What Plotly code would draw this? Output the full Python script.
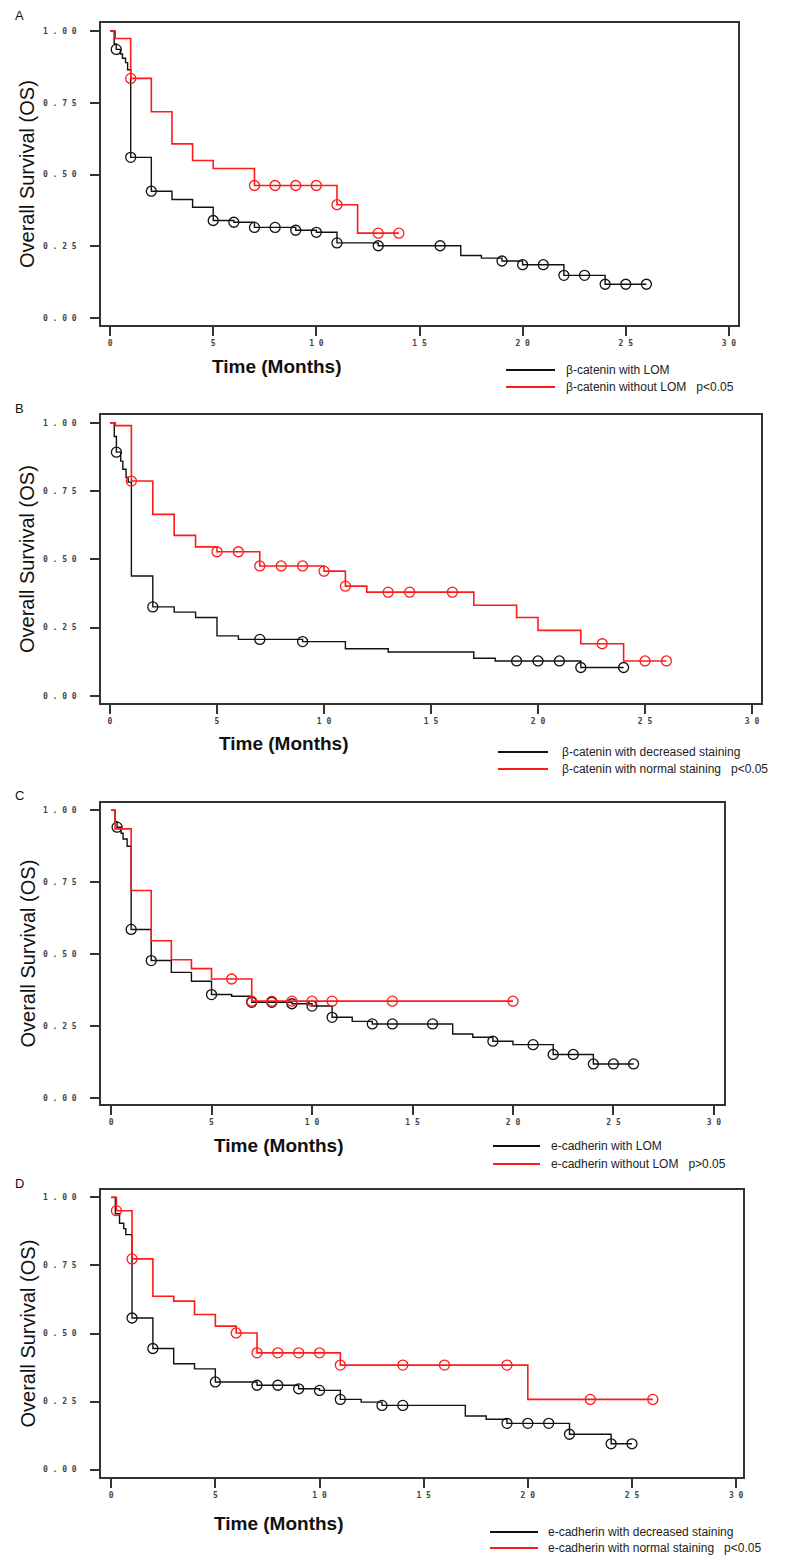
import plotly.graph_objects as go

W, H = 800, 1558

# ---- panel A: beta-catenin with / without LOM ----
a_blk_t = [0.2, 0.3, 0.5, 0.6, 0.75, 0.85, 1, 2, 3, 4, 5, 6, 7, 9, 10, 11, 13, 17, 18, 19, 20, 22, 24]
a_blk_s = [0.955, 0.936, 0.92, 0.905, 0.89, 0.865, 0.56, 0.442, 0.413, 0.386, 0.340, 0.334, 0.316,
           0.306, 0.299, 0.262, 0.252, 0.218, 0.209, 0.199, 0.186, 0.149, 0.118]
a_blk_end = 26
a_blk_cens = [0.3, 1, 2, 5, 6, 7, 8, 9, 10, 11, 13, 16, 19, 20, 21, 22, 23, 24, 25, 26]
a_red_t = [0.25, 1, 2, 3, 4, 5, 7, 11, 12]
a_red_s = [0.974, 0.835, 0.719, 0.607, 0.549, 0.521, 0.462, 0.395, 0.296]
a_red_end = 14
a_red_cens = [1, 7, 8, 9, 10, 11, 13, 14]

# ---- panel B: beta-catenin decreased / normal staining ----
b_blk_t = [0.2, 0.3, 0.5, 0.6, 0.75, 0.85, 1, 2, 3, 4, 5, 6, 9, 11, 13, 17, 18, 22]
b_blk_s = [0.95, 0.893, 0.86, 0.83, 0.80, 0.783, 0.439, 0.326, 0.307, 0.287, 0.220, 0.207, 0.199,
           0.173, 0.161, 0.138, 0.128, 0.104]
b_blk_end = 24
b_blk_cens = [0.3, 2, 7, 9, 19, 20, 21, 22, 24]
b_red_t = [0.25, 1, 2, 3, 4, 5, 7, 10, 11, 12, 17, 19, 20, 22, 24]
b_red_s = [0.99, 0.787, 0.665, 0.588, 0.546, 0.528, 0.476, 0.457, 0.402, 0.380, 0.332, 0.287,
           0.240, 0.191, 0.128]
b_red_end = 26
b_red_cens = [1, 5, 6, 7, 8, 9, 10, 11, 13, 14, 16, 23, 25, 26]

# ---- panel C: e-cadherin with / without LOM ----
c_blk_t = [0.2, 0.3, 0.5, 0.6, 0.8, 1, 2, 3, 4, 5, 6, 7, 9, 10, 11, 12, 13, 17, 18, 19, 20, 22, 24]
c_blk_s = [0.96, 0.941, 0.92, 0.90, 0.875, 0.586, 0.478, 0.437, 0.406, 0.360, 0.354, 0.333, 0.328,
           0.320, 0.281, 0.267, 0.258, 0.223, 0.212, 0.198, 0.186, 0.152, 0.119]
c_blk_end = 26
c_blk_cens = [0.3, 1, 2, 5, 7, 8, 9, 10, 11, 13, 14, 16, 19, 21, 22, 23, 24, 25, 26]
c_red_t = [0.2, 1, 2, 3, 4, 5, 7]
c_red_s = [0.935, 0.721, 0.547, 0.481, 0.450, 0.414, 0.337]
c_red_end = 20
c_red_cens = [6, 7, 8, 9, 10, 11, 14, 20]

# ---- panel D: e-cadherin decreased / normal staining ----
d_blk_t = [0.2, 0.4, 0.6, 0.7, 1, 2, 3, 4, 5, 7, 9, 10, 11, 12, 13, 17, 18, 19, 22, 24]
d_blk_s = [0.94, 0.905, 0.885, 0.863, 0.557, 0.445, 0.389, 0.370, 0.322, 0.310, 0.297, 0.291,
           0.258, 0.248, 0.236, 0.197, 0.185, 0.170, 0.130, 0.095]
d_blk_end = 25
d_blk_cens = [1, 2, 5, 7, 8, 9, 10, 11, 13, 14, 19, 20, 21, 22, 24, 25]
d_red_t = [0.25, 1, 2, 3, 4, 5, 6, 7, 11, 20]
d_red_s = [0.951, 0.774, 0.637, 0.619, 0.570, 0.527, 0.502, 0.429, 0.384, 0.258]
d_red_end = 26
d_red_cens = [0.25, 1, 6, 7, 8, 9, 10, 11, 14, 16, 19, 23, 26]

x_tickvals = [0, 5, 10, 15, 20, 25, 30]
x_ticktext = ["0", "5", "1 0", "1 5", "2 0", "2 5", "3 0"]
y_tickvals = [0, 0.25, 0.5, 0.75, 1.0]
y_ticktext = ["0 . 0 0", "0 . 2 5", "0 . 5 0", "0 . 7 5", "1 . 0 0"]

panels = [
    dict(label="A", box=(93, 730, 15, 317), xr=(-0.44, 30.44), yr=(-0.024, 1.028),
         black=(a_blk_t, a_blk_s, a_blk_end, a_blk_cens), red=(a_red_t, a_red_s, a_red_end, a_red_cens),
         names=["β-catenin with LOM", "β-catenin without LOM   p<0.05"],
         leg=(498, 547, 556, 362, 379), xtitle=(268, 358)),
    dict(label="B", box=(93, 753, 407, 695), xr=(-0.42, 30.42), yr=(-0.026, 1.029),
         black=(b_blk_t, b_blk_s, b_blk_end, b_blk_cens), red=(b_red_t, b_red_s, b_red_end, b_red_cens),
         names=["β-catenin with decreased staining", "β-catenin with normal staining   p<0.05"],
         leg=(490, 540, 552, 744, 761), xtitle=(275, 736)),
    dict(label="C", box=(93, 716, 795, 1096), xr=(-0.5, 30.5), yr=(-0.02, 1.025),
         black=(c_blk_t, c_blk_s, c_blk_end, c_blk_cens), red=(c_red_t, c_red_s, c_red_end, c_red_cens),
         names=["e-cadherin with LOM", "e-cadherin without LOM   p>0.05"],
         leg=(485, 532, 541, 1138, 1156), xtitle=(270, 1137)),
    dict(label="D", box=(93, 735, 1182, 1469), xr=(-0.49, 30.33), yr=(-0.027, 1.027),
         black=(d_blk_t, d_blk_s, d_blk_end, d_blk_cens), red=(d_red_t, d_red_s, d_red_end, d_red_cens),
         names=["e-cadherin with decreased staining", "e-cadherin with normal staining   p<0.05"],
         leg=(482, 530, 538, 1524, 1540), xtitle=(270, 1515)),
]


def km_xy(times, surv, end):
    return [0] + list(times) + [end], [1.0] + list(surv) + [surv[-1]]


def surv_at(times, surv, t):
    s = 1.0
    for ti, si in zip(times, surv):
        if ti <= t:
            s = si
    return s


fig = go.Figure()
shapes, annotations = [], []
font_main = "Liberation Sans, Arial, sans-serif"

for i, p in enumerate(panels, start=1):
    xa = "x" if i == 1 else f"x{i}"
    ya = "y" if i == 1 else f"y{i}"
    for key, color, width in (("black", "#111111", 1.4), ("red", "#ff1a1a", 1.6)):
        t, s, end, cens = p[key]
        x, y = km_xy(t, s, end)
        fig.add_trace(go.Scatter(x=x, y=y, mode="lines", line=dict(color=color, width=width, shape="hv"),
                                 xaxis=xa, yaxis=ya, showlegend=False, hoverinfo="skip"))
        fig.add_trace(go.Scatter(x=cens, y=[surv_at(t, s, c) for c in cens], mode="markers",
                                 marker=dict(symbol="circle-open", size=10, color=color,
                                             line=dict(width=1.3, color=color)),
                                 xaxis=xa, yaxis=ya, showlegend=False, hoverinfo="skip"))

    x0, x1, top, bot = p["box"]
    axis_common = dict(showline=True, linecolor="#333333", linewidth=1.5, mirror=True,
                       ticks="outside", ticklen=9, tickwidth=1.5, tickcolor="#333333",
                       showgrid=False, zeroline=False, fixedrange=True,
                       tickfont=dict(family="DejaVu Sans Mono, monospace", size=8, color="#444444",
                                     weight="bold"))
    fig.update_layout(**{
        ("xaxis" if i == 1 else f"xaxis{i}"): dict(
            domain=[x0 / W, x1 / W], range=list(p["xr"]), anchor=ya,
            tickvals=x_tickvals, ticktext=x_ticktext, ticklabelstandoff=1, **axis_common),
        ("yaxis" if i == 1 else f"yaxis{i}"): dict(
            domain=[1 - bot / H, 1 - top / H], range=list(p["yr"]), anchor=xa,
            tickvals=y_tickvals, ticktext=y_ticktext, ticklabelstandoff=12, **axis_common),
    })

    # panel letter
    annotations.append(dict(x=5 / W, y=1 - (top - 7) / H, xref="paper", yref="paper", text=p["label"],
                            showarrow=False, xanchor="left", yanchor="middle",
                            font=dict(family=font_main, size=13, color="#111111")))
    # axis titles
    annotations.append(dict(x=19 / W, y=1 - (top + bot) / 2 / H, xref="paper", yref="paper",
                            text="Overall Survival (OS)", textangle=-90, showarrow=False,
                            xanchor="center", yanchor="middle",
                            font=dict(family=font_main, size=20, color="#111111")))
    tx, ty = p["xtitle"]
    annotations.append(dict(x=tx / W, y=1 - ty / H, xref="paper", yref="paper",
                            text="<b>Time (Months)</b>", showarrow=False,
                            xanchor="center", yanchor="middle",
                            font=dict(family=font_main, size=19, color="#111111")))
    # legend
    lx0, lx1, tx0, r1, r2 = p["leg"]
    for row_y, color, name in ((r1, "#111111", p["names"][0]), (r2, "#ff1a1a", p["names"][1])):
        shapes.append(dict(type="line", xref="paper", yref="paper", x0=lx0 / W, x1=lx1 / W,
                           y0=1 - row_y / H, y1=1 - row_y / H, line=dict(color=color, width=1.8)))
        annotations.append(dict(x=tx0 / W, y=1 - row_y / H, xref="paper", yref="paper", text=name,
                                showarrow=False, xanchor="left", yanchor="middle",
                                font=dict(family=font_main, size=12, color="#222222")))

fig.update_layout(width=W, height=H, margin=dict(l=0, r=0, t=0, b=0),
                  paper_bgcolor="white", plot_bgcolor="white",
                  shapes=shapes, annotations=annotations, showlegend=False)

fig.write_html("out.html")
